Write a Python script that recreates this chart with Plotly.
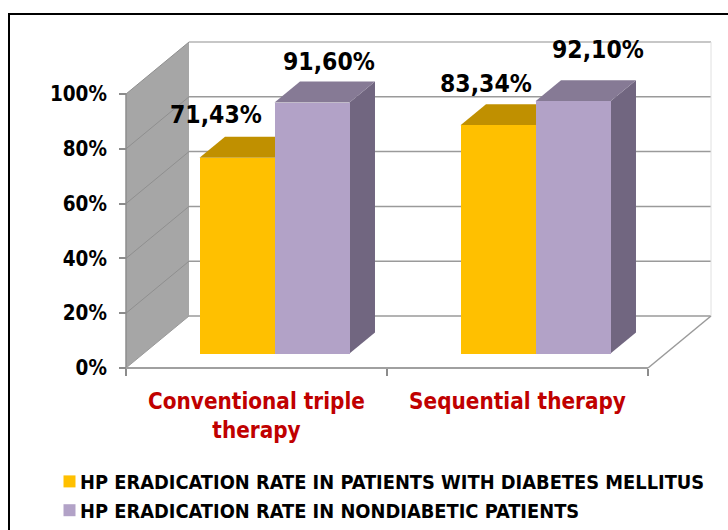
import plotly.graph_objects as go

categories = ["Conventional triple<br>therapy", "Sequential therapy"]
series_names = ["HP ERADICATION RATE IN PATIENTS WITH DIABETES MELLITUS",
                "HP ERADICATION RATE IN NONDIABETIC PATIENTS"]
diabetic = [71.43, 83.34]
nondiabetic = [91.60, 92.10]
label_diabetic = ["71,43%", "83,34%"]
label_nondiabetic = ["91,60%", "92,10%"]
y_ticks = [0, 20, 40, 60, 80, 100]

W, H = 728, 530
X0, Y0, PXX, PXY = 126.0, 368.0, 261.0, 2.74
FONT = "DejaVu Sans Condensed"

# depth offsets expressed in axis units
wall_dx, wall_dy = 63 / PXX, 52 / PXY
front_dx, front_dy = 18 / PXX, 14.5 / PXY
depth_dx, depth_dy = 25.5 / PXX, 21 / PXY
bar_w = 75 / PXX
n = len(categories)
centers = [i + 0.5 for i in range(n)]
bar_x = [c + front_dx for c in centers]

def poly(pts, fill, line=None):
    path = "M " + " L ".join(f"{x:.4f},{y:.4f}" for x, y in pts) + " Z"
    return dict(type="path", path=path, xref="x", yref="y", layer="below",
                fillcolor=fill, line=dict(width=0))

def seg(x0, y0, x1, y1, color, width=1.5, layer="below"):
    return dict(type="line", x0=x0, y0=y0, x1=x1, y1=y1, xref="x", yref="y",
                layer=layer, line=dict(color=color, width=width))

shapes = []
# left wall
shapes.append(poly([(0, 0), (wall_dx, wall_dy), (wall_dx, 100 + wall_dy), (0, 100)], "#a6a6a6"))
for t in y_ticks:
    # back wall gridlines and their run along the left wall
    shapes.append(seg(wall_dx, t + wall_dy, n + wall_dx, t + wall_dy,
                      "#b4b4b4" if t == 100 else "#9a9a9a"))
    if 0 < t:
        shapes.append(seg(0, t, wall_dx, t + wall_dy, "#8f8f8f", 1))
shapes.append(seg(0, 0, wall_dx, wall_dy, "#9a9a9a", 1))
# floor edge and right edge of back wall
shapes.append(seg(n, 0, n + wall_dx, wall_dy, "#9a9a9a", 1.5))
shapes.append(seg(n + wall_dx, wall_dy, n + wall_dx, 100 + wall_dy, "#e0e0e0", 1))
# axis lines
shapes.append(seg(0, 0, 0, 100, "#8c8c8c", 1.5))
shapes.append(seg(0, 0, n, 0, "#a0a0a0", 2))

# 3D faces of the bars, derived from the values
for cx, a, b in zip(bar_x, diabetic, nondiabetic):
    for left, val, top_col, side_col in [
        (cx - bar_w, a, "#c09000", "#c09000"),
        (cx, b, "#867a95", "#716680"),
    ]:
        right = left + bar_w
        top = front_dy + val
        shapes.append(poly([(right, front_dy), (right + depth_dx, front_dy + depth_dy),
                            (right + depth_dx, top + depth_dy), (right, top)], side_col))
        shapes.append(poly([(left, top), (left + depth_dx, top + depth_dy),
                            (right + depth_dx, top + depth_dy), (right, top)], top_col))

# frame round the picture
shapes.append(dict(type="line", xref="paper", yref="paper", x0=9 / W, x1=9 / W, y0=0, y1=1 - 14 / H,
                   line=dict(color="#000000", width=2)))
shapes.append(dict(type="line", xref="paper", yref="paper", x0=8 / W, x1=1, y0=1 - 14 / H, y1=1 - 14 / H,
                   line=dict(color="#000000", width=2)))

fig = go.Figure()
fig.add_trace(go.Bar(name=series_names[0], x=bar_x, y=diabetic, base=front_dy, width=bar_w, offset=-bar_w,
                     marker=dict(color="#ffc000", line=dict(width=0)), legendgroup="a"))
fig.add_trace(go.Bar(name=series_names[1], x=bar_x, y=nondiabetic, base=front_dy, width=bar_w, offset=0,
                     marker=dict(color="#b2a2c7", line=dict(width=0)), legendgroup="b"))

annotations = []
label_shift = [(-21, 43), (16.5, 41), (-12.5, 42), (25, 52)]
entries = []
for cx, a, b, la, lb in zip(bar_x, diabetic, nondiabetic, label_diabetic, label_nondiabetic):
    entries.append((cx - bar_w / 2, a, la))
    entries.append((cx + bar_w / 2, b, lb))
for (x, v, txt), (sx, sy) in zip(entries, label_shift):
    annotations.append(dict(x=x, y=v + front_dy, text=txt, xshift=sx, yshift=sy, showarrow=False,
                            xanchor="center", yanchor="middle",
                            font=dict(family=FONT, size=24.5, color="#000000", weight="bold")))

fig.update_layout(
    width=W, height=H, margin=dict(l=0, r=0, t=0, b=0, pad=0, autoexpand=False),
    paper_bgcolor="white", plot_bgcolor="white",
    barmode="overlay", bargap=0, shapes=shapes, annotations=annotations,
    xaxis=dict(range=[-X0 / PXX, (W - X0) / PXX], domain=[0, 1], anchor="free",
               position=1 - Y0 / H, showgrid=False, zeroline=False, showline=False,
               tickmode="array", tickvals=centers, ticktext=categories, ticks="",
               ticklabelstandoff=18,
               tickfont=dict(family=FONT, size=22.3, color="#c00000", weight="bold"),
               minor=dict(tickmode="array", tickvals=list(range(n + 1)), ticks="outside",
                          ticklen=7, tickwidth=1.5, tickcolor="#8c8c8c", showgrid=False)),
    yaxis=dict(range=[(Y0 - H) / PXY, Y0 / PXY], domain=[0, 1], anchor="free",
               position=X0 / W, showgrid=False, zeroline=False, showline=False,
               tickmode="array", tickvals=y_ticks, ticktext=[f"{t}%" for t in y_ticks],
               ticks="outside", ticklen=7, tickwidth=1.5, tickcolor="#8c8c8c",
               ticklabelstandoff=8,
               tickfont=dict(family=FONT, size=20.5, color="#000000", weight="bold")),
    legend=dict(x=49 / W, y=1 - 462 / H, xanchor="left", yanchor="top", orientation="v",
                traceorder="normal", tracegroupgap=1, indentation=-9, itemclick=False,
                bgcolor="rgba(0,0,0,0)", borderwidth=0,
                font=dict(family=FONT, size=19.85, color="#000000", weight="bold")),
    showlegend=True,
)
post = ("document.body.style.margin='0';document.body.style.overflow='hidden';"
        "document.querySelectorAll('.legendsymbols').forEach(function(s){s.setAttribute('transform','translate(9.5,0)');});")
fig.write_html("out.html", post_script=post, config={"displayModeBar": False})
